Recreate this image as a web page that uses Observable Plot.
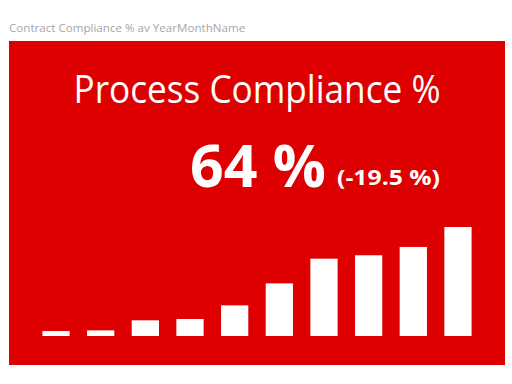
<!DOCTYPE html>
<html>
<head>
<meta charset="utf-8">
<script src="https://cdn.jsdelivr.net/npm/d3@7"></script>
<script src="https://cdn.jsdelivr.net/npm/@observablehq/plot@0.6"></script>
<style>
  html, body { margin: 0; padding: 0; background: #ffffff; }
  body { width: 512px; height: 384px; position: relative; overflow: hidden; font-family: "Open Sans", "Noto Sans", sans-serif; }
  #title { position: absolute; left: 9px; top: 21px; font-size: 11.6px; color: #a6a6a6; white-space: nowrap; line-height: 14px; }
  #card { position: absolute; left: 9px; top: 41px; width: 496px; height: 324px; background: #de0000; }
  #card svg { position: absolute; left: 0; top: 0; background: transparent; }
</style>
</head>
<body>
<div id="title">Contract Compliance % av YearMonthName</div>
<div id="card"></div>
<script>
const months = ["Jan", "Feb", "Mar", "Apr", "May", "Jun", "Jul", "Aug", "Sep", "Oct"];
const compliance = [2.9, 3.3, 9.2, 10.0, 18.0, 30.9, 45.4, 47.4, 52.3, 64.0];
const kpiTitle = "Process Compliance %";
const kpiValue = "64 %";
const kpiChange = "(-19.5 %)";

const data = months.map((m, i) => ({month: m, value: compliance[i]}));

const chart = Plot.plot({
  width: 496,
  height: 324,
  marginLeft: 16,
  marginRight: 16,
  marginTop: 186,
  marginBottom: 29,
  style: {background: "transparent", overflow: "visible"},
  x: {domain: months, padding: 0.39, round: false, axis: null},
  y: {domain: [0, 64], axis: null},
  marks: [
    Plot.barY(data, {x: "month", y: "value", fill: "#ffffff"})
  ]
});

const svg = d3.select(chart);
svg.append("text")
  .attr("x", 248).attr("y", 61.5)
  .attr("text-anchor", "middle")
  .attr("fill", "#ffffff")
  .attr("textLength", 367)
  .attr("lengthAdjust", "spacingAndGlyphs")
  .style("font-family", "'Open Sans', sans-serif")
  .style("font-size", "38px")
  .text(kpiTitle);
svg.append("text")
  .attr("x", 317).attr("y", 145.7)
  .attr("text-anchor", "end")
  .attr("fill", "#ffffff")
  .style("font-family", "'Open Sans', sans-serif")
  .style("font-weight", "bold")
  .style("font-size", "59px")
  .text(kpiValue);
svg.append("text")
  .attr("x", 431).attr("y", 144)
  .attr("text-anchor", "end")
  .attr("fill", "#ffffff")
  .attr("textLength", 103)
  .attr("lengthAdjust", "spacingAndGlyphs")
  .style("font-family", "'Open Sans', sans-serif")
  .style("font-weight", "bold")
  .style("font-size", "22px")
  .text(kpiChange);

document.getElementById("card").appendChild(chart);
</script>
</body>
</html>
